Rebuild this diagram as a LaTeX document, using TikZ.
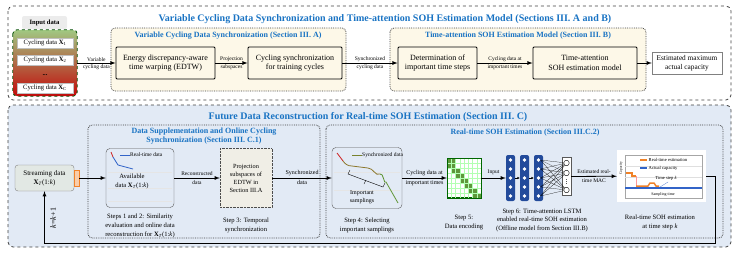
\documentclass[tikz,border=0pt]{standalone}
\usepackage{fontspec}
\setmainfont{Liberation Serif}
\usepackage{tikz}
\usetikzlibrary{
  arrows,%
  arrows.meta,%
  positioning,%
  calc
}
\tikzset{>=latex}
\definecolor{titleblue}{RGB}{25,115,195}
\definecolor{cream}{RGB}{253,248,232}
\definecolor{lowfill}{RGB}{226,234,245}
\definecolor{streamfill}{RGB}{226,232,228}
\definecolor{projfill}{RGB}{240,238,230}
\definecolor{lstmblue}{RGB}{35,75,155}
\definecolor{estorange}{RGB}{240,130,40}
\definecolor{capblue}{RGB}{50,100,200}
\definecolor{ingreen}{RGB}{160,200,130}
\definecolor{inbrown}{RGB}{170,100,60}
\definecolor{inred}{RGB}{195,10,10}
\definecolor{mgreen}{RGB}{95,150,60}
\definecolor{curvered}{RGB}{205,30,30}
\definecolor{curveolive}{RGB}{140,120,45}
\definecolor{curvegreen}{RGB}{90,145,45}
\newcommand{\xT}{\textbf{X}\textsubscript{\textit{T}}(1:\textit{k})}
\tikzset{
  outerbox/.style={draw=black!75, dashed, thick, rounded corners=5pt},
  innerbox/.style={draw=black!75, densely dotted, thick, rounded corners=4pt},
  procbox/.style={draw=black, thick, rounded corners=1pt, fill=cream, align=center,
    font=\fontsize{8}{9.5}\selectfont, inner sep=1pt, minimum height=32},
  databox/.style={draw=gray!50, fill=white, minimum width=56, minimum height=10,
    inner sep=0pt, font=\fontsize{6.6}{8}\selectfont},
  lbl/.style={font=\fontsize{5.5}{6.5}\selectfont, inner sep=1pt, align=center},
  capt/.style={font=\fontsize{6.6}{8.6}\selectfont, align=center},
  bigtitle/.style={font=\bfseries\fontsize{10}{12}\selectfont, text=titleblue},
  subtitle/.style={font=\bfseries\fontsize{8}{9.6}\selectfont, text=titleblue, align=center},
  flow/.style={->, thick},
  plotbox/.style={draw=gray!70!black, rounded corners=4pt, inner sep=0pt},
  lstmcol/.style={fill=lstmblue, rounded corners=2pt, minimum width=9,
    minimum height=46, inner sep=0pt},
  outnode/.style={circle, draw=black, fill=white, minimum size=5.5, inner sep=0pt},
}
\begin{document}
\begin{tikzpicture}[x=1pt, y=-1pt]
  \useasboundingbox (0,0) rectangle (736,255);
  % frames
  \draw[outerbox] (8,6) rectangle (731,100);
  \draw[outerbox, fill=lowfill] (8,105) rectangle (731,247);
  \node[bigtitle] (toptitle) at (385,19) {Variable Cycling Data Synchronization and Time-attention SOH Estimation Model (Sections III. A and B)};
  \node[bigtitle] (lowtitle) at (368,117) {Future Data Reconstruction for Real-time SOH Estimation (Section III. C)};
  \draw[innerbox, fill=cream] (111,28) rectangle (346,91);
  \draw[innerbox, fill=cream] (390,28) rectangle (646,91);
  \draw[innerbox] (88,125) rectangle (320,238);
  \draw[innerbox] (326,125) rectangle (723,238);
  \node[subtitle] (synctitle) at (228,36) {Variable Cycling Data Synchronization (Section III. A)};
  \node[subtitle] (tatitle) at (518,36) {Time-attention SOH Estimation Model (Section III. B)};
  \node[subtitle] (supptitle) at (204,136) {Data Supplementation and Online Cycling\\Synchronization (Section III. C.1)};
  \node[subtitle] (rttitle) at (525,133) {Real-time SOH Estimation (Section III.C.2)};

  % input data
  \node[fill=gray!15, rounded corners=2pt, minimum width=45, minimum height=13,
    font=\bfseries\fontsize{6.6}{8}\selectfont] (inlabel) at (44.5,22.5) {Input data};
  \node[top color=ingreen, middle color=inbrown, bottom color=inred, rounded corners=4pt,
    minimum width=64, minimum height=66, inner sep=0pt] (input) at (45,63) {};
  \draw[dashed, thick, draw=black!70!green, rounded corners=4pt] (input.north west) rectangle (input.south east);
  \node[databox] (x1) at (45,43) {Cycling data \textbf{X}\textsubscript{1}};
  \node[databox] (x2) at (45,60) {Cycling data \textbf{X}\textsubscript{2}};
  \node[inner sep=0pt, font=\bfseries\fontsize{6.6}{8}\selectfont] (xd) at (45,75.5) {...};
  \node[databox] (xc) at (45,88) {Cycling data \textbf{X}\textsubscript{C}};

  % top row
  \node[procbox, minimum width=99] (edtw) at (165.5,63) {Energy discrepancy-aware\\time warping (EDTW)};
  \node[procbox, minimum width=94] (cycsync) at (295,63) {Cycling synchronization\\for training cycles};
  \node[procbox, minimum width=79] (determ) at (437.5,63) {Determination of\\important time steps};
  \node[procbox, minimum width=104] (tamodel) at (585,63) {Time-attention\\SOH estimation model};
  \node[draw=gray, fill=white, minimum width=70, minimum height=22, inner sep=0pt, align=center,
    font=\fontsize{7.3}{9}\selectfont] (estmac) at (687,63) {Estimated maximum\\actual capacity};
  \draw[flow] (input) -- (edtw) node[lbl, midway, above] {Variable} node[lbl, midway, below] {cycling data};
  \draw[flow] (edtw) -- (cycsync) node[lbl, midway, above] {Projection} node[lbl, midway, below] {subspaces};
  \draw[flow] (cycsync) -- (determ) node[lbl, midway, above] {Synchronized} node[lbl, midway, below] {cycling data};
  \draw[flow] (determ) -- (tamodel) node[lbl, midway, above] {Cycling data at} node[lbl, midway, below] {important times};
  \draw[flow] (tamodel) -- (estmac);

  % streaming data
  \node[draw=gray, fill=streamfill, rounded corners=3pt, minimum width=59, minimum height=26,
    inner sep=0pt, align=center, font=\fontsize{7}{9}\selectfont] (stream) at (44.5,178) {Streaming data\\\xT};
  \node[draw=estorange, fill=estorange!40, minimum width=5, minimum height=16, inner sep=0pt] (tab) at (76.5,178) {};

  % available data
  \node[plotbox, minimum width=68, minimum height=59] (avail) at (140,178) {};
  \foreach \y in {172,188,201}
    \draw[gray!20] (108,\y) -- (172,\y);
  \draw[curvered, thick] (111,152) -- (113,157);
  \draw[capblue, thick] (113,157) -- (118,165) -- (133,169);
  \draw[capblue, thick] (120,155) -- (130,155);
  \node[lbl, anchor=west, inner sep=0pt] (availleg) at (130,155) {Real-time data};
  \node[align=center, font=\fontsize{6.6}{9}\selectfont] (availtxt) at (132,181.5) {Available\\data \xT};

  % projection subspaces
  \node[draw=black!70, densely dotted, fill=projfill, minimum width=52, minimum height=59,
    inner sep=0pt, align=center, font=\fontsize{6.3}{8}\selectfont] (proj) at (246,178) {Projection\\subspaces of\\EDTW in\\Section III.A};

  % synchronized data
  \node[plotbox, minimum width=70, minimum height=61] (syncd) at (367,178) {};
  \foreach \y in {172,190}
    \draw[gray!20] (334,\y) -- (400,\y);
  \draw[curvered, thick] (337,153) -- (343,161);
  \draw[curveolive, thick] (343,161) to[out=-55,in=180] (352,166) -- (368,168) to[out=0,in=-150] (380,174);
  \draw[curvegreen, thick] (380,174) to[out=30,in=-120] (386,182) -- (398,203);
  \draw[curveolive!60!curvegreen, thick] (352,155) -- (362,155);
  \node[lbl, anchor=west, inner sep=0pt] (syncleg) at (362,155) {Synchronized data};
  \draw[thin] (350,170) -- (348,174) -- (383,187) -- (385,183);
  \draw[thin] (366,180) -- (364,184);
  \node[align=center, font=\fontsize{6}{7.5}\selectfont] (imptxt) at (362,197) {Important\\samplings};

  % data encoding
  \node[draw=green!40!black, minimum width=34, minimum height=39, inner sep=0pt, fill=white] (enc) at (464,178) {};
  \foreach \c/\r in {0/0,1/0,0/1,1/1,1/2,2/2,2/3,3/3,3/4,4/4,4/5,5/5,5/6,6/6,6/7,7/7}
    \fill[mgreen] (447+\c*4.25,158.5+\r*4.875) rectangle ++(4.25,4.875);
  \foreach \i in {1,...,7} {
    \draw[green!30, very thin] (447+\i*4.25,158.5) -- (447+\i*4.25,197.5);
    \draw[green!30, very thin] (447,158.5+\i*4.875) -- (481,158.5+\i*4.875);
  }
  \draw[green!40!black] (enc.north west) rectangle (enc.south east);

  % lstm
  \foreach \x/\n in {510.5/l1, 524.5/l2, 538.5/l3} {
    \node[lstmcol] (\n) at (\x,178) {};
    \foreach \y in {160,169,178,187,196}
      \fill[white] (\x,\y) circle (1.8);
  }
  \draw[-{Latex[length=2.5pt,width=2.5pt]}, thin] (l1) -- (l2);
  \draw[-{Latex[length=2.5pt,width=2.5pt]}, thin] (l2) -- (l3);
  \node[draw=gray!70!black, fill=white, minimum width=9, minimum height=38, inner sep=0pt] (outl) at (566.5,176.5) {};
  \node[outnode] (o1) at (566.5,163) {};
  \node[outnode] (o2) at (566.5,173) {};
  \node[outnode] (o3) at (566.5,190) {};
  \foreach \y in {179.5,181.5,183.5}
    \fill (566.5,\y) circle (0.35);
  \foreach \y in {160,169,178,187,196}
    \foreach \o in {o1,o2,o3}
      \draw[very thin] (540.5,\y) -- (\o);

  % real-time soh plot
  \node[fill=white, minimum width=89, minimum height=52, inner sep=0pt] (plot) at (661.5,176) {};
  \draw[gray!70] (625,155) rectangle (702,198);
  \foreach \y in {166,177}
    \draw[gray!25] (625,\y) -- (702,\y);
  \draw[capblue, line width=2pt] (625,188) -- (702,188);
  \draw[estorange, line width=1.5pt] (626,173) -- (632,173) -- (632,176) -- (636,176);
  \draw[red!40, thin] (636,176) -- (636,186);
  \draw[estorange, line width=1.5pt] (636,186) -- (648,186) -- (650,183) -- (654,183) -- (656,186) -- (659,186);
  \draw[capblue, very thin] (660,187) -- (668,182);
  \draw[estorange, line width=1.5pt] (640,160) -- (647,160);
  \draw[capblue, line width=1.5pt] (640,168) -- (647,168);
  \node[anchor=west, inner sep=0.5pt, font=\fontsize{4.6}{5}\selectfont] (legest) at (648,160) {Real-time estimation};
  \node[anchor=west, inner sep=0.5pt, font=\fontsize{4.6}{5}\selectfont] (legcap) at (648,168) {Actual capacity};
  \node[inner sep=0.5pt, font=\fontsize{4.6}{5}\selectfont] (tslbl) at (666,178.5) {Time step \textit{k}};
  \node[inner sep=0.5pt, font=\fontsize{4}{5}\selectfont] (samplbl) at (663,194.5) {Sampling time};
  \node[rotate=90, inner sep=0.5pt, font=\fontsize{3.6}{4}\selectfont] (caplbl) at (621,168) {Capacity};

  % lower connectors
  \draw[flow] (tab) -- (avail);
  \draw[flow] (avail) -- (proj) node[lbl, midway, above, yshift=1pt] {Reconstructed} node[lbl, midway, below, yshift=-1pt] {data};
  \draw[flow] (proj) -- (syncd) node[lbl, midway, above, yshift=1pt, font=\fontsize{6}{7}\selectfont] {Synchronized} node[lbl, midway, below, yshift=-1pt, font=\fontsize{6}{7}\selectfont] {data};
  \draw[flow] (syncd) -- (enc) node[lbl, midway, above, yshift=1pt, font=\fontsize{6}{7}\selectfont] {Cycling data at} node[lbl, midway, below, yshift=-1pt, font=\fontsize{6}{7}\selectfont] {important times};
  \draw[flow] (enc) -- (l1) node[lbl, midway, above, yshift=2pt] {Input};
  \draw[flow] (outl) -- (plot) node[lbl, midway, above, yshift=1pt] {Estimated real-} node[lbl, midway, below, yshift=-1pt] {time MAC};
  \coordinate (loopR) at (715,243);
  \coordinate (loopL) at (44.5,243);
  \draw[flow] (plot.east) -| (loopR) -- (loopL) -- (stream.south);
  \node[rotate=90, inner sep=0pt, font=\fontsize{8}{9}\selectfont] (kstep) at (53,218) {\textit{k}=\textit{k}+1};

  % captions
  \node[capt] (cap12) at (140,226) {Steps 1 and 2: Similarity\\evaluation and online data\\reconstruction for \xT};
  \node[capt] (cap3) at (246,225.5) {Step 3: Temporal\\synchronization};
  \node[capt] (cap4) at (367,225.5) {Step 4: Selecting\\important samplings};
  \node[capt] (cap5) at (464,222.5) {Step 5:\\Data encoding};
  \node[capt] (cap6) at (542,220.5) {Step 6: Time-attention LSTM\\enabled real-time SOH estimation\\(Offline model from Section III.B)};
  \node[capt] (cap7) at (660,222.5) {Real-time SOH estimation\\at time step \textit{k}};
\end{tikzpicture}
\end{document}
